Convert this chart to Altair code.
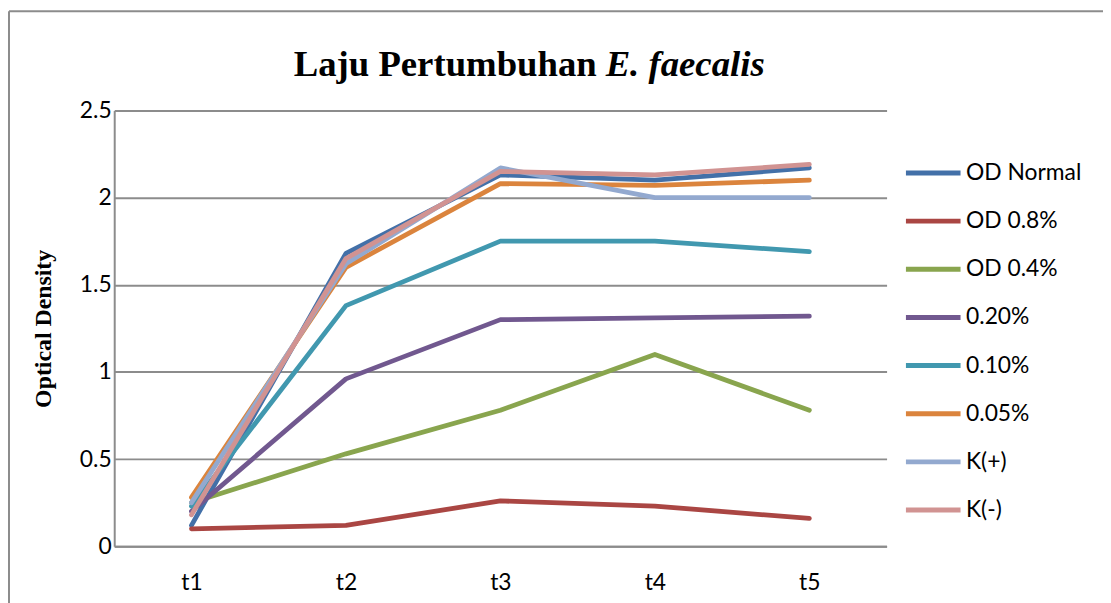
import altair as alt
import pandas as pd

times = ["t1", "t2", "t3", "t4", "t5"]
series_names = ["OD Normal", "OD 0.8%", "OD 0.4%", "0.20%", "0.10%", "0.05%", "K(+)", "K(-)"]
colors = ["#4370A8", "#AA4643", "#89A54E", "#71588F", "#4198AF", "#DB843D", "#93A9CF", "#D19392"]

od_normal = [0.12, 1.68, 2.13, 2.10, 2.17]
od_08 = [0.10, 0.12, 0.26, 0.23, 0.16]
od_04 = [0.25, 0.53, 0.78, 1.10, 0.78]
p020 = [0.20, 0.96, 1.30, 1.31, 1.32]
p010 = [0.23, 1.38, 1.75, 1.75, 1.69]
p005 = [0.28, 1.60, 2.08, 2.07, 2.10]
k_plus = [0.25, 1.62, 2.17, 2.00, 2.00]
k_minus = [0.18, 1.65, 2.15, 2.13, 2.19]

y_ticks = [0, 0.5, 1, 1.5, 2, 2.5]
title_main = "Laju Pertumbuhan"
title_species = "E. faecalis"
y_title = "Optical Density"

all_series = [od_normal, od_08, od_04, p020, p010, p005, k_plus, k_minus]
rows = []
for name, vals in zip(series_names, all_series):
    for t, v in zip(times, vals):
        rows.append({"time": t, "series": name, "value": v})
df = pd.DataFrame(rows)

W, H = 778, 439

lines = alt.Chart(df).mark_line(strokeWidth=4.8, strokeJoin="round", strokeCap="round").encode(
    x=alt.X("time:N", sort=times, scale=alt.Scale(type="point", padding=0.5),
            axis=alt.Axis(title=None, labelAngle=0, ticks=False, grid=False,
                          domainColor="#8c8c8c", domainWidth=2, labelPadding=26)),
    y=alt.Y("value:Q", scale=alt.Scale(domain=[0, 2.5], nice=False),
            axis=alt.Axis(values=y_ticks, format="~g", title=y_title, ticks=False,
                          gridColor="#8c8c8c", gridWidth=2, domainColor="#8c8c8c", domainWidth=2,
                          labelPadding=3, titlePadding=24,
                          titleFont="Liberation Serif", titleFontSize=24, titleFontWeight="bold",
                          titleColor="black")),
    color=alt.Color("series:N", sort=series_names,
                    scale=alt.Scale(domain=series_names, range=colors),
                    legend=alt.Legend(title=None, orient="none", legendX=795, legendY=33,
                                      symbolType="stroke", symbolSize=3025, symbolStrokeWidth=5,
                                      rowPadding=6.5, labelOffset=3, padding=0,
                                      labelFont="Lato", labelFontSize=23, labelColor="black")),
    order=alt.Order("time:N"),
)

dummy = pd.DataFrame({"t1": [title_main], "t2": [title_species]})

title1 = alt.Chart(dummy).mark_text(font="Liberation Serif", fontSize=37, fontWeight="bold",
                                    align="right", baseline="alphabetic", color="black").encode(
    text="t1:N", x=alt.value(486), y=alt.value(-35))
title2 = alt.Chart(dummy).mark_text(font="Liberation Serif", fontSize=37, fontWeight="bold",
                                    fontStyle="italic", align="left", baseline="alphabetic",
                                    color="black").encode(
    text="t2:N", x=alt.value(495), y=alt.value(-35))

border_top = alt.Chart(dummy).mark_rule(color="#8c8c8c", strokeWidth=2).encode(
    x=alt.value(-106), x2=alt.value(1100), y=alt.value(-100))
border_left = alt.Chart(dummy).mark_rule(color="#8c8c8c", strokeWidth=2).encode(
    x=alt.value(-106), y=alt.value(-100), y2=alt.value(600))

chart = alt.layer(border_top, border_left, lines, title1, title2).properties(
    width=W, height=H,
    padding={"left": 107, "top": 101, "right": 218, "bottom": 55},
    autosize=alt.AutoSizeParams(type="none"),
    background="white",
).configure_view(strokeWidth=0).configure_axis(
    labelFont="Lato", labelFontSize=23, labelColor="black"
)

chart.save("out.html", embed_options={"renderer": "svg", "actions": False})
